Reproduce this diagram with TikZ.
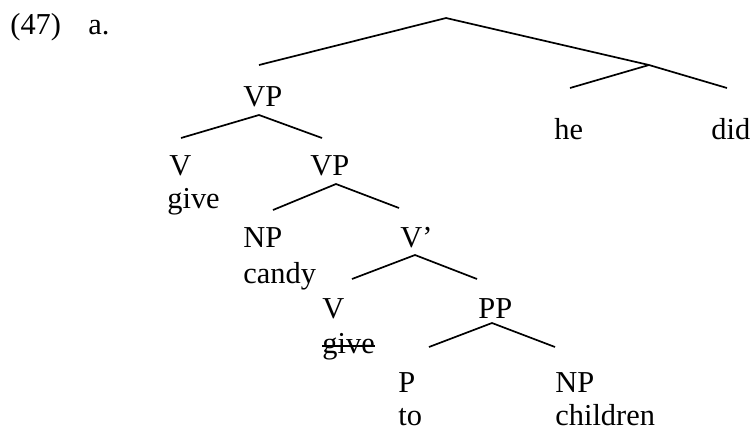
\documentclass[tikz,border=0pt]{standalone}
\usepackage{fontspec}
\setmainfont{Liberation Serif}
\usepackage{tikz}

\begin{document}
\begin{tikzpicture}[
  x=0.5pt, y=-0.5pt,
  lab/.style={anchor=base west, inner sep=0pt, font=\fontsize{15.2}{18}\selectfont},
  branch/.style={line width=0.85pt}
]
\useasboundingbox (0,0) rectangle (752,430);

% labels
\node[lab] (ex) at (10,34) {(47)};
\node[lab] (exa) at (88,34) {a.};
\node[lab] (vp1) at (243,106) {VP};
\node[lab] (he) at (554,139) {he};
\node[lab] (did) at (711,139) {did};
\node[lab] (v1) at (169,175) {V};
\node[lab] (vp2) at (310,175) {VP};
\node[lab] (give1) at (167,208) {give};
\node[lab] (np1) at (243,247) {NP};
\node[lab] (vbar) at (400,247) {V’};
\node[lab] (candy) at (243,283) {candy};
\node[lab] (v2) at (322,318) {V};
\node[lab] (pp) at (478,318) {PP};
\node[lab] (give2) at (322,353) {give};
\node[lab] (p) at (398,392) {P};
\node[lab] (np2) at (555,392) {NP};
\node[lab] (to) at (398,425) {to};
\node[lab] (children) at (555,425) {children};

% strike through the lower copy of give
\draw[branch] ([yshift=3.6pt]give2.base west) -- ([yshift=3.6pt]give2.base east);

% branch points
\coordinate (root) at (446,18);
\coordinate (root-l) at (259,65);
\coordinate (hd-a) at (649,65);
\coordinate (hd-l) at (570,88);
\coordinate (hd-r) at (727,88);
\coordinate (vp1-a) at (259,115);
\coordinate (vp1-l) at (181,138);
\coordinate (vp1-r) at (322,138);
\coordinate (vp2-a) at (336,184);
\coordinate (vp2-l) at (273,210);
\coordinate (vp2-r) at (399,208);
\coordinate (vbar-a) at (415,255);
\coordinate (vbar-l) at (352,279);
\coordinate (vbar-r) at (477,279);
\coordinate (pp-a) at (492,323);
\coordinate (pp-l) at (429,347);
\coordinate (pp-r) at (555,347);

\draw[branch] (root-l) -- (root) -- (hd-a);
\draw[branch] (hd-l) -- (hd-a) -- (hd-r);
\draw[branch] (vp1-l) -- (vp1-a) -- (vp1-r);
\draw[branch] (vp2-l) -- (vp2-a) -- (vp2-r);
\draw[branch] (vbar-l) -- (vbar-a) -- (vbar-r);
\draw[branch] (pp-l) -- (pp-a) -- (pp-r);
\end{tikzpicture}
\end{document}
